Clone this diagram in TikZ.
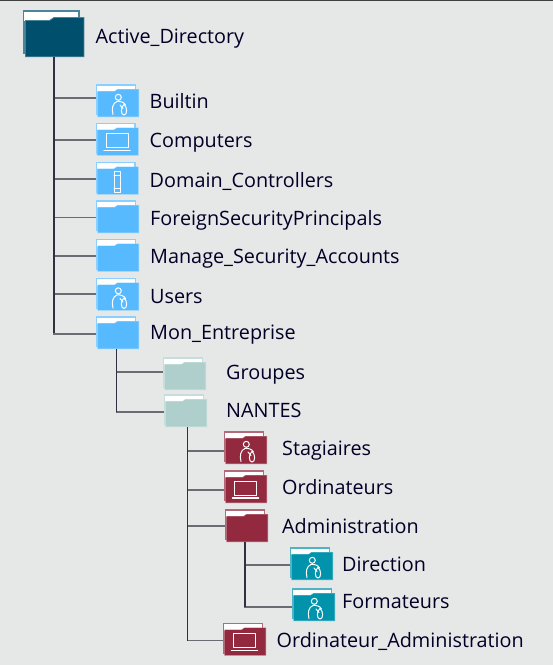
\documentclass[tikz,border=0pt]{standalone}
\usepackage{fontspec}
\setmainfont{Open Sans}
\usetikzlibrary{positioning}
\usetikzlibrary{calc}
\definecolor{paper}{HTML}{E6E7E7}
\definecolor{inkline}{HTML}{2F3140}
\definecolor{sideline}{HTML}{6A6B73}
\definecolor{adcolor}{HTML}{004F6D}
\definecolor{bluefolder}{HTML}{57BAFF}
\definecolor{palefolder}{HTML}{AECFCB}
\definecolor{redfolder}{HTML}{92293E}
\definecolor{tealfolder}{HTML}{0093AB}

\tikzset{
  folderbox/.style={rectangle,inner sep=0pt,outer sep=0pt,anchor=north west},
  folderlabel/.style={font=\fontsize{19.8pt}{22pt}\selectfont,text=black!85!blue,inner sep=0pt,text height=19pt,text depth=4pt},
  trunk/.style={inkline,line width=1.8pt},
  branch/.style={sideline,line width=1.5pt},
  icon/.style={white,line width=1pt,fill=none,line cap=round,line join=round}
}

% icons, in the folder's own 43 x 33 units
\newcommand{\usericon}{%
  \draw[icon] (22.3,13.3) circle (3);
  \draw[icon] (17,30.5) .. controls (15.5,25) and (16.5,19) .. (21,17.5)
     .. controls (24,17) and (28,18) .. (29.5,21);
  \draw[icon] (28,20.5) .. controls (31.5,23) and (31.5,31) .. (28,31)
     .. controls (24.5,31) and (24.5,23) .. (28,20.5);
  \draw[icon] (24,21) -- (27,24.5);
}
\newcommand{\laptopicon}{%
  \draw[icon] (10.5,11) rectangle (32.5,25);
  \draw[icon,line width=1.5pt] (8.5,28) -- (34.5,28);
}
\newcommand{\servericon}{%
  \draw[icon] (18.5,10) rectangle (24.5,31);
  \draw[icon] (18.5,14) -- (24.5,14);
  \draw[icon] (18.5,27) -- (24.5,27);
}
\newcommand{\noicon}{}

% [scale]{name}{x}{y}{colour}{icon}
\newcommand{\folder}[6][1]{%
  \node[folderbox,minimum width=43pt*#1,minimum height=33pt*#1] (#2) at (#3,#4) {};
  \begin{scope}[shift={(#2.north west)},scale=#1]
    \fill[#5!70!white] (0,0) rectangle (40,31);
    \fill[white] (1,1.5) rectangle (38.5,8);
    \fill[#5!70!white] (1.4,7) -- (18.5,7) -- (21.5,5) -- (43,5) -- (43,33) -- (1.4,33) -- cycle;
    \fill[#5] (2,7.7) -- (18.7,7.7) -- (21.7,5.7) -- (42.4,5.7) -- (42.4,32.4) -- (2,32.4) -- cycle;
    #6
  \end{scope}
}

\begin{document}
\begin{tikzpicture}[x=1pt,y=-1pt]
  \useasboundingbox (0,0) rectangle (553,665);
  \fill[paper] (0,0) rectangle (553,665);
  \fill[black!75] (0,0) rectangle (553,1);

  \folder[1.43]{ad}{23}{10}{adcolor}{\noicon}
  \folder{builtin}{96}{84}{bluefolder}{\usericon}
  \folder{computers}{95.5}{122.5}{bluefolder}{\laptopicon}
  \folder{domain}{95.5}{161.5}{bluefolder}{\servericon}
  \folder{foreign}{96}{200}{bluefolder}{\noicon}
  \folder{manage}{96}{238.5}{bluefolder}{\noicon}
  \folder{users}{96}{277.5}{bluefolder}{\usericon}
  \folder{mon}{96}{316}{bluefolder}{\noicon}
  \folder{groupes}{163}{357}{palefolder}{\noicon}
  \folder{nantes}{164}{394}{palefolder}{\noicon}
  \folder{stagiaires}{224}{431}{redfolder}{\usericon}
  \folder{ordinateurs}{224}{470}{redfolder}{\laptopicon}
  \folder{administration}{225}{509}{redfolder}{\noicon}
  \folder{direction}{290}{547}{tealfolder}{\usericon}
  \folder{formateurs}{292}{588}{tealfolder}{\usericon}
  \folder{ordiadmin}{223}{622.5}{redfolder}{\laptopicon}

  \node[folderlabel,right=11pt of ad,yshift=-2.5pt] (adlabel) {Active\_Directory};
  \node[folderlabel,right=10.5pt of builtin,yshift=-.5pt] (builtinlabel) {Builtin};
  \node[folderlabel,right=11pt of computers,yshift=-1pt] (computerslabel) {Computers};
  \node[folderlabel,right=11pt of domain,yshift=-1.5pt] (domainlabel) {Domain\_Controllers};
  \node[folderlabel,right=11pt of foreign,yshift=-1pt] (foreignlabel) {ForeignSecurityPrincipals};
  \node[folderlabel,right=11pt of manage,yshift=-1pt] (managelabel) {Manage\_Security\_Accounts};
  \node[folderlabel,right=11pt of users,yshift=-1.5pt] (userslabel) {Users};
  \node[folderlabel,right=11pt of mon,yshift=1pt] (monlabel) {Mon\_Entreprise};
  \node[folderlabel,right=20pt of groupes,yshift=2pt] (groupeslabel) {Groupes};
  \node[folderlabel,right=19pt of nantes,yshift=1pt] (nanteslabel) {NANTES};
  \node[folderlabel,right=15pt of stagiaires] (stagiaireslabel) {Stagiaires};
  \node[folderlabel,right=15pt of ordinateurs] (ordinateurslabel) {Ordinateurs};
  \node[folderlabel,right=14pt of administration] (administrationlabel) {Administration};
  \node[folderlabel,right=9pt of direction] (directionlabel) {Direction};
  \node[folderlabel,right=7pt of formateurs,yshift=4pt] (formateurslabel) {Formateurs};
  \node[folderlabel,right=10.5pt of ordiadmin,yshift=-1pt] (ordiadminlabel) {Ordinateur\_Administration};

  % branches first, the trunks go over them
  \foreach \kid/\dy in {builtin/2.5,computers/-1,domain/-1,foreign/-1,manage/-1,users/0,mon/-1.5}
    \draw[branch] (ad.south) |- ([yshift=\dy pt]\kid.west);
  \foreach \kid/\dy in {groupes/1.5,nantes/-1.5}
    \draw[branch] ([xshift=-1pt]mon.south) |- ([yshift=\dy pt]\kid.west);
  \foreach \kid/\dy in {stagiaires/-3.5,ordinateurs/-3.5,administration/-.5,ordiadmin/-1.5}
    \draw[branch] ([xshift=2pt]nantes.south) |- ([yshift=\dy pt]\kid.west);
  \foreach \kid/\dy in {direction/-1.5,formateurs/-2.5}
    \draw[branch] ([xshift=-1.5pt]administration.south) |- ([yshift=\dy pt]\kid.west);

  \draw[trunk] (ad.south) -- (ad.south |- mon.west);
  \draw[trunk,line width=1.4pt] ([xshift=-1pt]mon.south) -- ([xshift=-1pt,yshift=-1.5pt]mon.south |- nantes.west);
  \draw[trunk,line width=1.3pt] ([xshift=2pt]nantes.south) -- ([xshift=2pt,yshift=-1.5pt]nantes.south |- ordiadmin.west);
  \draw[trunk] ([xshift=-1.5pt]administration.south) -- ([xshift=-1.5pt,yshift=-2.5pt]administration.south |- formateurs.west);
\end{tikzpicture}
\end{document}
